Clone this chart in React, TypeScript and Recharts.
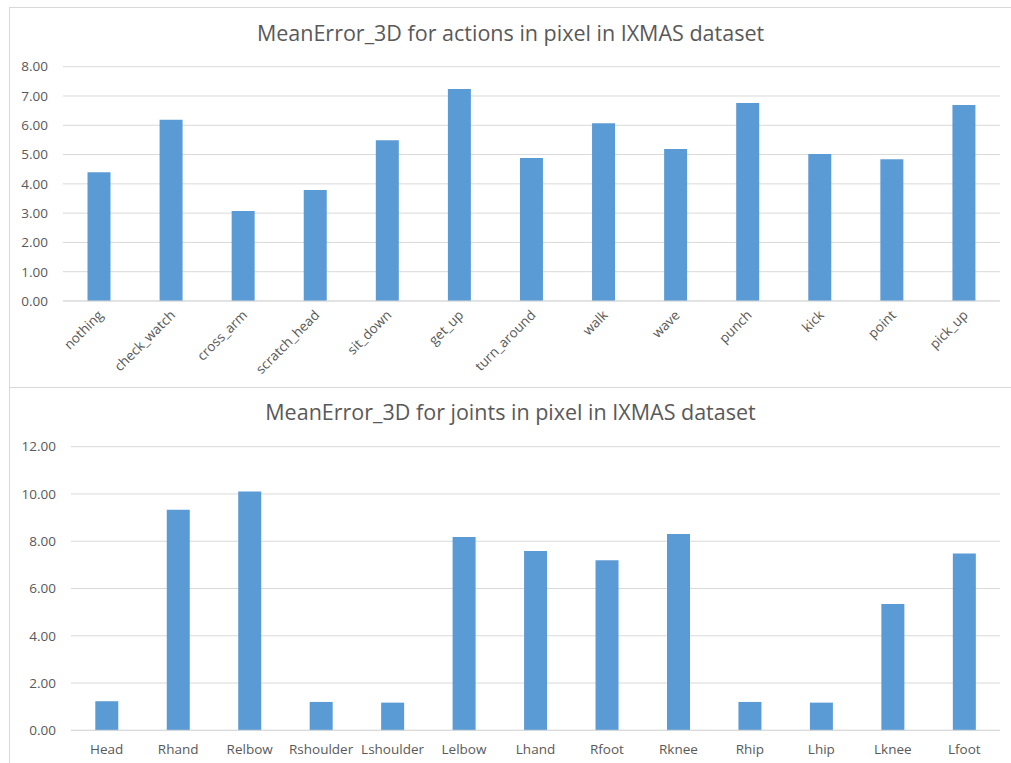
import { BarChart, Bar, XAxis, YAxis, CartesianGrid } from 'recharts';

const actions = [
  'nothing', 'check_watch', 'cross_arm', 'scratch_head', 'sit_down', 'get_up', 'turn_around',
  'walk', 'wave', 'punch', 'kick', 'point', 'pick_up',
];
const actionErrors = [4.4, 6.19, 3.07, 3.79, 5.49, 7.24, 4.88, 6.07, 5.19, 6.76, 5.02, 4.84, 6.69];
const actionTicks = [0, 1, 2, 3, 4, 5, 6, 7, 8];

const joints = [
  'Head', 'Rhand', 'Relbow', 'Rshoulder', 'Lshoulder', 'Lelbow', 'Lhand',
  'Rfoot', 'Rknee', 'Rhip', 'Lhip', 'Lknee', 'Lfoot',
];
const jointErrors = [1.23, 9.33, 10.1, 1.2, 1.17, 8.18, 7.59, 7.2, 8.31, 1.2, 1.17, 5.34, 7.48];
const jointTicks = [0, 2, 4, 6, 8, 10, 12];

const actionData = actions.map((name, i) => ({ name, value: actionErrors[i] }));
const jointData = joints.map((name, i) => ({ name, value: jointErrors[i] }));

const FONT = '"Open Sans", sans-serif';
const TEXT = '#595959';
const GRID = '#d9d9d9';
const BAR = '#5b9bd5';

const tickStyle = { fill: TEXT, fontSize: 13.5, fontFamily: FONT };

function SlantedTick({ x, y, payload }: any) {
  const ax = x + 5;
  const ay = y + 7;
  return (
    <text
      x={ax}
      y={ay}
      transform={`rotate(-45, ${ax}, ${ay})`}
      textAnchor="end"
      fill={TEXT}
      fontSize={13.5}
      fontFamily={FONT}
    >
      {payload.value}
    </text>
  );
}

const titleStyle: React.CSSProperties = {
  position: 'absolute',
  left: 10,
  width: 1001,
  textAlign: 'center',
  fontFamily: FONT,
  fontSize: 21.5,
  color: TEXT,
  whiteSpace: 'nowrap',
};

export default function App() {
  return (
    <div
      style={{
        position: 'absolute',
        left: 0,
        top: 0,
        width: 1011,
        height: 763,
        overflow: 'hidden',
        background: '#fff',
      }}
    >
      {/* frame around both panels */}
      <div
        style={{
          position: 'absolute',
          left: 9,
          top: 7,
          width: 1020,
          height: 800,
          borderLeft: `1px solid ${GRID}`,
          borderTop: `1px solid ${GRID}`,
        }}
      />
      <div
        style={{
          position: 'absolute',
          left: 9,
          top: 387,
          width: 1020,
          borderTop: `1px solid ${GRID}`,
        }}
      />

      <div style={{ ...titleStyle, top: 18 }}>MeanError_3D for actions in pixel in IXMAS dataset</div>
      <div style={{ position: 'absolute', left: 10, top: 8 }}>
        <BarChart
          width={1001}
          height={379}
          data={actionData}
          margin={{ top: 58.7, right: 11, bottom: 6, left: 7 }}
          barCategoryGap="34%"
        >
          <CartesianGrid vertical={false} stroke={GRID} strokeWidth={1} />
          <XAxis
            dataKey="name"
            interval={0}
            height={80}
            tickLine={false}
            axisLine={{ stroke: GRID }}
            tick={<SlantedTick />}
          />
          <YAxis
            width={46}
            domain={[0, 8]}
            ticks={actionTicks}
            tickFormatter={(v: number) => v.toFixed(2)}
            tickLine={false}
            axisLine={false}
            tickSize={0}
            tickMargin={15}
            tick={tickStyle}
          />
          <Bar dataKey="value" fill={BAR} isAnimationActive={false} />
        </BarChart>
      </div>

      <div style={{ ...titleStyle, top: 397 }}>MeanError_3D for joints in pixel in IXMAS dataset</div>
      <div style={{ position: 'absolute', left: 10, top: 388 }}>
        <BarChart
          width={1001}
          height={375}
          data={jointData}
          margin={{ top: 58.7, right: 11, bottom: 2.7, left: 15 }}
          barCategoryGap="34%"
        >
          <CartesianGrid vertical={false} stroke={GRID} strokeWidth={1} />
          <XAxis
            dataKey="name"
            interval={0}
            height={30}
            tickLine={false}
            axisLine={{ stroke: GRID }}
            tickMargin={8}
            tick={tickStyle}
          />
          <YAxis
            width={46}
            domain={[0, 12]}
            ticks={jointTicks}
            tickFormatter={(v: number) => v.toFixed(2)}
            tickLine={false}
            axisLine={false}
            tickSize={0}
            tickMargin={15}
            tick={tickStyle}
          />
          <Bar dataKey="value" fill={BAR} isAnimationActive={false} />
        </BarChart>
      </div>
    </div>
  );
}
